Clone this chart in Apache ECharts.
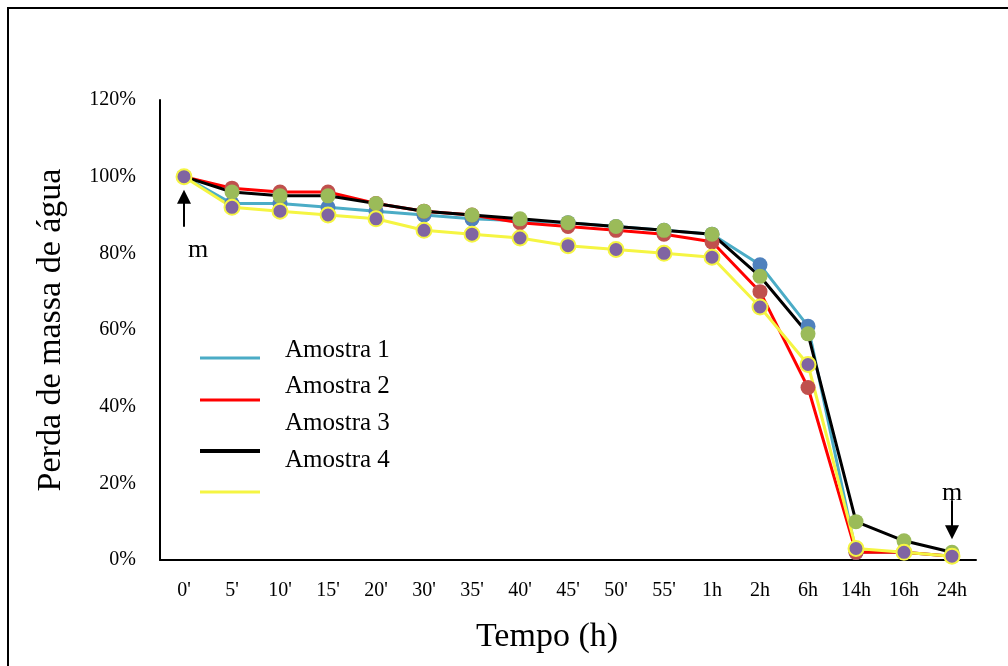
<!DOCTYPE html>
<html>
<head>
<meta charset="utf-8">
<script src="https://cdn.jsdelivr.net/npm/echarts@6/dist/echarts.min.js"></script>
<style>
  html, body { margin: 0; padding: 0; background: #fff; }
  #frame { position: absolute; left: 7px; top: 7px; width: 1008px; height: 666px; border-left: 2px solid #000; border-top: 2px solid #000; box-sizing: border-box; }
  #chart { position: absolute; left: 0; top: 0; width: 1008px; height: 666px; }
</style>
</head>
<body>
<div id="frame"></div>
<div id="chart"></div>
<script>
// Sampling times
const tempos = ["0'", "5'", "10'", "15'", "20'", "30'", "35'", "40'", "45'", "50'", "55'", "1h", "2h", "6h", "14h", "16h", "24h"];

// Water mass loss (%) for each sample
const amostra1 = [100, 93, 93, 92, 91, 90, 89, 88.5, 88, 87, 86, 85, 77, 61, 2, 2, 1];
const amostra2 = [100, 97, 96, 96, 93, 91, 90, 88, 87, 86, 85, 83, 70, 45, 2, 2, 1];
const amostra3 = [100, 96, 95, 95, 93, 91, 90, 89, 88, 87, 86, 85, 74, 59, 10, 5, 2];
const amostra4 = [100, 92, 91, 90, 89, 86, 85, 84, 82, 81, 80, 79, 66, 51, 3, 2, 1];

const yTicks = [0, 20, 40, 60, 80, 100, 120];

const serif = "'Liberation Serif', 'DejaVu Serif', serif";

const chart = echarts.init(document.getElementById('chart'), null, { renderer: 'canvas' });

function lineSeries(name, data, lineColor, markerColor, markerBorder) {
  return {
    name: name,
    type: 'line',
    data: data,
    symbol: 'circle',
    symbolSize: 15,
    lineStyle: { color: lineColor, width: 3 },
    itemStyle: {
      color: markerColor,
      borderColor: markerBorder || markerColor,
      borderWidth: markerBorder ? 2 : 0
    },
    emphasis: { disabled: true },
    animation: false
  };
}

chart.setOption({
  animation: false,
  grid: { left: 160, top: 100, width: 816, height: 460, containLabel: false },
  xAxis: {
    type: 'category',
    data: tempos,
    boundaryGap: true,
    axisLine: { lineStyle: { color: '#000', width: 2 } },
    axisTick: { show: false },
    axisLabel: { color: '#000', fontFamily: serif, fontSize: 20, margin: 21 },
    name: 'Tempo (h)',
    nameLocation: 'middle',
    nameGap: 60,
    nameTextStyle: { color: '#000', fontFamily: serif, fontSize: 34, padding: [0, 42, 0, 0] }
  },
  yAxis: {
    type: 'value',
    min: yTicks[0],
    max: yTicks[yTicks.length - 1],
    interval: 20,
    axisLine: { show: true, lineStyle: { color: '#000', width: 2 } },
    axisTick: { show: false },
    splitLine: { show: false },
    axisLabel: { color: '#000', fontFamily: serif, fontSize: 20, margin: 24, formatter: v => v + '%' },
    name: 'Perda de massa de água',
    nameLocation: 'middle',
    nameGap: 92,
    nameTextStyle: { color: '#000', fontFamily: serif, fontSize: 34 }
  },
  series: [
    lineSeries('Amostra 1', amostra1, '#4BACC6', '#4F81BD'),
    lineSeries('Amostra 2', amostra2, '#FF0000', '#C0504D'),
    lineSeries('Amostra 3', amostra3, '#000000', '#9BBB59'),
    lineSeries('Amostra 4', amostra4, '#F5F542', '#8064A2', '#F5F542')
  ]
});

// Legend: swatches and labels
const legendLines = [
  { y: 358, color: '#4BACC6', w: 3 },
  { y: 400, color: '#FF0000', w: 3 },
  { y: 451, color: '#000000', w: 4 },
  { y: 492, color: '#F5F542', w: 3 }
];
const legendTexts = [
  { y: 350, text: 'Amostra 1' },
  { y: 386, text: 'Amostra 2' },
  { y: 423, text: 'Amostra 3' },
  { y: 460, text: 'Amostra 4' }
];

const graphics = [];
legendLines.forEach(l => graphics.push({
  type: 'line', silent: true,
  shape: { x1: 200, y1: l.y, x2: 260, y2: l.y },
  style: { stroke: l.color, lineWidth: l.w }
}));
legendTexts.forEach(t => graphics.push({
  type: 'text', silent: true, x: 285, y: t.y,
  style: { text: t.text, fill: '#000', font: '25px ' + serif, textVerticalAlign: 'middle' }
}));

// "m" markers with arrows at the first and last readings
const first = chart.convertToPixel({ gridIndex: 0 }, [0, amostra4[0]]);
const last = chart.convertToPixel({ gridIndex: 0 }, [tempos.length - 1, amostra4[amostra4.length - 1]]);

graphics.push(
  { type: 'line', silent: true, shape: { x1: first[0], y1: first[1] + 50, x2: first[0], y2: first[1] + 26 }, style: { stroke: '#000', lineWidth: 2 } },
  { type: 'polygon', silent: true, shape: { points: [[first[0] - 7, first[1] + 27], [first[0] + 7, first[1] + 27], [first[0], first[1] + 13]] }, style: { fill: '#000' } },
  { type: 'text', silent: true, x: first[0] + 14, y: first[1] + 74, style: { text: 'm', fill: '#000', font: '26px ' + serif, textAlign: 'center', textVerticalAlign: 'middle' } },
  { type: 'line', silent: true, shape: { x1: last[0], y1: last[1] - 56, x2: last[0], y2: last[1] - 30 }, style: { stroke: '#000', lineWidth: 2 } },
  { type: 'polygon', silent: true, shape: { points: [[last[0] - 7, last[1] - 31], [last[0] + 7, last[1] - 31], [last[0], last[1] - 17]] }, style: { fill: '#000' } },
  { type: 'text', silent: true, x: last[0], y: last[1] - 63, style: { text: 'm', fill: '#000', font: '26px ' + serif, textAlign: 'center', textVerticalAlign: 'middle' } }
);

chart.setOption({ graphic: graphics });
</script>
</body>
</html>
